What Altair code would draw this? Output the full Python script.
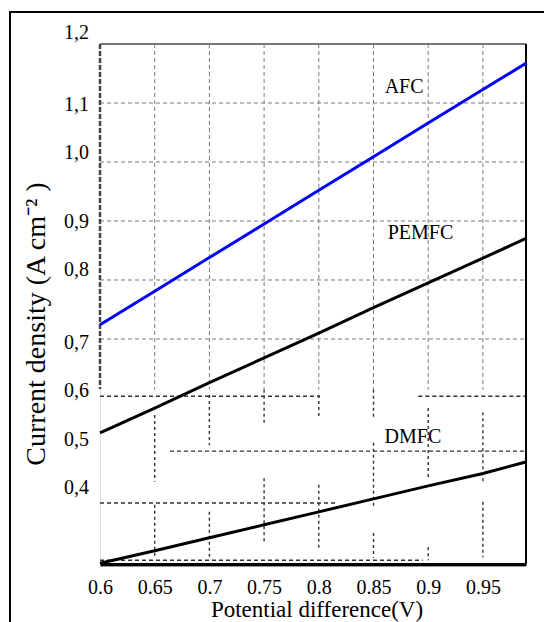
import altair as alt
import pandas as pd

# ---- data ----
x_vals = [0.6, 0.65, 0.7, 0.75, 0.8, 0.85, 0.9, 0.95, 0.99]
afc = [0.724, 0.781, 0.838, 0.895, 0.952, 1.009, 1.066, 1.123, 1.168]
pemfc = [0.541, 0.583, 0.626, 0.668, 0.710, 0.753, 0.795, 0.837, 0.871]
dmfc = [0.320, 0.341, 0.363, 0.385, 0.407, 0.429, 0.451, 0.472, 0.492]

series_names = ["AFC", "PEMFC", "DMFC"]
series_colors = ["#0000ff", "#000000", "#000000"]
label_x = [0.878, 0.893, 0.886]
label_y = [1.127, 0.880, 0.534]

x_ticks = [0.6, 0.65, 0.7, 0.75, 0.8, 0.85, 0.9, 0.95]
y_label_text = ["1,2", "1,1", "1,0", "0,9", "0,8", "0,7", "0,6", "0,5", "0,4"]
y_label_pos = [1.219, 1.097, 1.015, 0.898, 0.817, 0.693, 0.612, 0.529, 0.447]

# upper (dashed) grid
upper_h_y = [1.1, 1.0, 0.9, 0.8, 0.7]
upper_v_x = [0.65, 0.7, 0.75, 0.8, 0.85, 0.9, 0.95]
upper_v_bottom = 0.614

# lower broken (dotted) grid segments
lower_h_y = [0.603, 0.603, 0.510, 0.422, 0.325]
lower_h_x1 = [0.6, 0.891, 0.664, 0.6, 0.6]
lower_h_x2 = [0.801, 0.9894, 0.9894, 0.815, 0.895]
lower_v_x = [0.65, 0.65, 0.7, 0.7, 0.75, 0.75, 0.8, 0.8, 0.85, 0.85, 0.85, 0.9, 0.9, 0.95, 0.95]
lower_v_y1 = [0.571, 0.419, 0.605, 0.407, 0.614, 0.464, 0.605, 0.453, 0.614, 0.524, 0.371, 0.583, 0.347, 0.576, 0.424]
lower_v_y2 = [0.458, 0.330, 0.520, 0.330, 0.558, 0.354, 0.566, 0.342, 0.566, 0.414, 0.329, 0.461, 0.325, 0.458, 0.330]

X_MIN, X_MAX = 0.6, 0.9894
Y_MIN, Y_MAX = 0.3186, 1.2
W, H = 426, 520
FONT = "Liberation Serif"

xs = alt.Scale(domain=[X_MIN, X_MAX], nice=False, zero=False)
ys = alt.Scale(domain=[Y_MIN, Y_MAX], nice=False, zero=False)
x_axis = alt.Axis(
    values=x_ticks, format=".2~f", ticks=False, grid=False, title=None,
    labelFont=FONT, labelFontSize=20, labelColor="#000", labelPadding=13,
    labelFlush=False, labelOverlap=False, domainColor="#000", domainWidth=3)

lines_df = pd.DataFrame({
    "x": x_vals * 3,
    "y": afc + pemfc + dmfc,
    "series": ["AFC"] * len(x_vals) + ["PEMFC"] * len(x_vals) + ["DMFC"] * len(x_vals),
})

uh_df = pd.DataFrame({"y": upper_h_y, "x1": [X_MIN] * len(upper_h_y), "x2": [X_MAX] * len(upper_h_y)})
uv_df = pd.DataFrame({"x": upper_v_x, "y1": [Y_MAX] * len(upper_v_x), "y2": [upper_v_bottom] * len(upper_v_x)})
lh_df = pd.DataFrame({"y": lower_h_y, "x1": lower_h_x1, "x2": lower_h_x2})
lv_df = pd.DataFrame({"x": lower_v_x, "y1": lower_v_y1, "y2": lower_v_y2})
lab_df = pd.DataFrame({"x": label_x, "y": label_y, "t": series_names})
ylab_df = pd.DataFrame({"y": y_label_pos, "t": y_label_text})

upper_h = alt.Chart(uh_df).mark_rule(color="#7a7a7a", strokeWidth=1, strokeDash=[4, 3]).encode(
    x=alt.X("x1:Q", scale=xs, axis=x_axis), x2="x2:Q", y=alt.Y("y:Q", scale=ys, axis=None))
upper_v = alt.Chart(uv_df).mark_rule(color="#7a7a7a", strokeWidth=1, strokeDash=[4, 3]).encode(
    x=alt.X("x:Q", scale=xs, axis=x_axis), y=alt.Y("y1:Q", scale=ys, axis=None), y2="y2:Q")
lower_h = alt.Chart(lh_df).mark_rule(color="#333333", strokeWidth=1.4, strokeDash=[4, 3]).encode(
    x=alt.X("x1:Q", scale=xs, axis=x_axis), x2="x2:Q", y=alt.Y("y:Q", scale=ys, axis=None))
lower_v = alt.Chart(lv_df).mark_rule(color="#333333", strokeWidth=1.4, strokeDash=[3, 3]).encode(
    x=alt.X("x:Q", scale=xs, axis=x_axis), y=alt.Y("y1:Q", scale=ys, axis=None), y2="y2:Q")

# frame pieces
top_edge = alt.Chart().mark_rule(color="#777777", strokeWidth=2).encode(
    x=alt.value(0), x2=alt.value(W), y=alt.value(0))
right_edge = alt.Chart().mark_rule(color="#000000", strokeWidth=2).encode(
    x=alt.value(W), y=alt.value(0), y2=alt.value(H))
left_edge = alt.Chart().mark_rule(color="#444444", strokeWidth=2.5, strokeDash=[5, 2]).encode(
    x=alt.value(0), y=alt.value(0), y2=alt.value(345))
bottom_shadow = alt.Chart().mark_rule(color="#999999", strokeWidth=1).encode(
    x=alt.value(0), x2=alt.value(W), y=alt.value(H + 2.5))
outer_left = alt.Chart().mark_rule(color="#000000", strokeWidth=2).encode(
    x=alt.value(-90), y=alt.value(-32), y2=alt.value(620))
outer_top = alt.Chart().mark_rule(color="#000000", strokeWidth=2).encode(
    x=alt.value(-91), x2=alt.value(470), y=alt.value(-32))

lines = alt.Chart(lines_df).mark_line(strokeWidth=3).encode(
    x=alt.X("x:Q", scale=xs, axis=x_axis),
    y=alt.Y("y:Q", scale=ys, axis=None),
    color=alt.Color("series:N", scale=alt.Scale(domain=series_names, range=series_colors), legend=None),
    detail="series:N",
)

series_labels = alt.Chart(lab_df).mark_text(font=FONT, fontSize=20, color="#000").encode(
    x=alt.X("x:Q", scale=xs, axis=x_axis), y=alt.Y("y:Q", scale=ys, axis=None), text="t:N")

y_labels = alt.Chart(ylab_df).mark_text(font=FONT, fontSize=20, color="#000", align="right", baseline="middle").encode(
    x=alt.value(-11), y=alt.Y("y:Q", scale=ys, axis=None), text="t:N")

x_title = alt.Chart().mark_text(font=FONT, fontSize=23, color="#000", align="center", baseline="alphabetic",
                                text="Potential difference(V)").encode(
    x=alt.value(217), y=alt.value(573))
y_title = alt.Chart().mark_text(font=FONT, fontSize=28, color="#000", align="center", baseline="middle",
                                angle=270, text="Current density (A cm\u207b\u00b2 )").encode(
    x=alt.value(-63), y=alt.value(280))

chart = alt.layer(
    upper_h, upper_v, lower_h, lower_v, top_edge, left_edge, right_edge, bottom_shadow, outer_left, outer_top,
    lines, series_labels, y_labels, x_title, y_title,
).properties(
    width=W, height=H,
    autosize=alt.AutoSizeParams(type="none"),
    padding={"left": 92, "top": 36, "right": 18, "bottom": 58},
).configure_view(stroke=None).configure(background="white")

chart.save("out.html", embed_options={"renderer": "svg", "actions": False})
